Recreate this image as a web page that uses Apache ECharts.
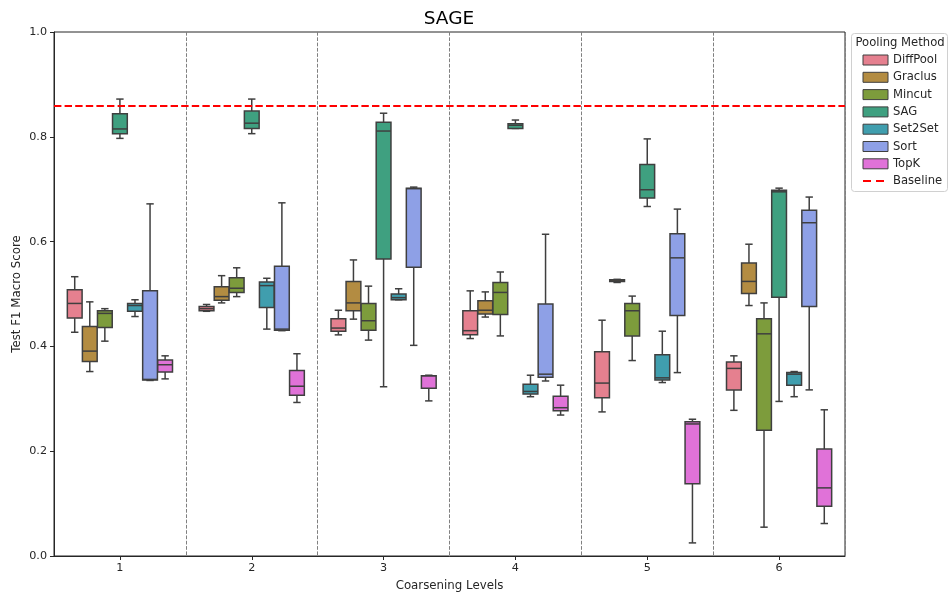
<!DOCTYPE html>
<html>
<head>
<meta charset="utf-8">
<script src="https://cdn.jsdelivr.net/npm/echarts@6/dist/echarts.min.js"></script>
<style>
  html, body { margin: 0; padding: 0; background: #fff; overflow: hidden; }
  #chart { width: 950px; height: 597px; }
</style>
</head>
<body>
<div id="chart"></div>
<script>
// Coarsening levels on the x axis
const levels = ['1', '2', '3', '4', '5', '6'];
const methods = ['DiffPool', 'Graclus', 'Mincut', 'SAG', 'Set2Set', 'Sort', 'TopK'];
const yTicks = [0, 0.2, 0.4, 0.6, 0.8, 1.0];
const baselineScore = 0.861;

// Five-number summaries per level: [low whisker, Q1, median, Q3, high whisker]
const diffPool = [
  [0.427, 0.454, 0.482, 0.508, 0.533],
  [0.467, 0.468, 0.472, 0.476, 0.480],
  [0.422, 0.429, 0.435, 0.453, 0.469],
  [0.415, 0.422, 0.430, 0.468, 0.506],
  [0.275, 0.302, 0.330, 0.390, 0.450],
  [0.278, 0.317, 0.358, 0.370, 0.382]
];
const graclus = [
  [0.352, 0.371, 0.391, 0.438, 0.485],
  [0.483, 0.488, 0.495, 0.514, 0.535],
  [0.452, 0.468, 0.483, 0.524, 0.565],
  [0.456, 0.462, 0.469, 0.487, 0.504],
  [0.522, 0.524, 0.525, 0.527, 0.528],
  [0.478, 0.501, 0.524, 0.559, 0.595]
];
const mincut = [
  [0.410, 0.436, 0.463, 0.468, 0.472],
  [0.495, 0.503, 0.511, 0.531, 0.550],
  [0.412, 0.431, 0.449, 0.482, 0.515],
  [0.420, 0.461, 0.503, 0.522, 0.542],
  [0.373, 0.420, 0.468, 0.482, 0.496],
  [0.055, 0.240, 0.424, 0.453, 0.483]
];
const sag = [
  [0.797, 0.806, 0.815, 0.844, 0.872],
  [0.806, 0.816, 0.826, 0.849, 0.872],
  [0.323, 0.567, 0.811, 0.828, 0.845],
  [0.816, 0.816, 0.822, 0.825, 0.832],
  [0.667, 0.683, 0.699, 0.747, 0.796],
  [0.295, 0.494, 0.695, 0.698, 0.702]
];
const set2set = [
  [0.457, 0.467, 0.478, 0.482, 0.489],
  [0.433, 0.474, 0.516, 0.523, 0.530],
  [0.489, 0.489, 0.493, 0.500, 0.510],
  [0.304, 0.309, 0.314, 0.328, 0.345],
  [0.331, 0.336, 0.340, 0.384, 0.429],
  [0.304, 0.326, 0.347, 0.350, 0.352]
];
const sort = [
  [0.335, 0.336, 0.337, 0.506, 0.672],
  [0.430, 0.431, 0.433, 0.553, 0.674],
  [0.402, 0.551, 0.701, 0.702, 0.704],
  [0.334, 0.341, 0.347, 0.481, 0.614],
  [0.350, 0.459, 0.569, 0.615, 0.662],
  [0.317, 0.476, 0.636, 0.660, 0.685]
];
const topK = [
  [0.338, 0.351, 0.365, 0.374, 0.382],
  [0.293, 0.307, 0.324, 0.354, 0.386],
  [0.296, 0.320, 0.344, 0.344, 0.345],
  [0.269, 0.277, 0.283, 0.305, 0.326],
  [0.025, 0.138, 0.252, 0.256, 0.261],
  [0.062, 0.095, 0.130, 0.204, 0.279]
];

const summaries = [diffPool, graclus, mincut, sag, set2set, sort, topK];
const palette = ['#e5808f', '#b38c42', '#7d9c3c', '#3fa080', '#409eae', '#8ea0e6', '#e072d8'];
const edge = '#3f3f3f';
const textColor = '#262626';
const FONT = 'DejaVu Sans';

// Draws one dodged box (whiskers, caps, box, median) per level
function boxRenderer(hueIdx, nHue) {
  return function (params, api) {
    const cat = api.value(0);
    const band = api.size([1, 0])[0];
    const slot = band * 0.8 / nHue;
    const w = slot * 0.98;
    const cx = api.coord([cat, 0])[0] + (hueIdx - (nHue - 1) / 2) * slot;
    const py = k => api.coord([cat, api.value(k)])[1];
    const yLow = py(1), yQ1 = py(2), yMed = py(3), yQ3 = py(4), yHigh = py(5);
    const cap = w / 2;
    const line = (x1, y1, x2, y2) => ({
      type: 'line',
      shape: { x1, y1, x2, y2 },
      style: { stroke: edge, lineWidth: 1.5 }
    });
    return {
      type: 'group',
      children: [
        line(cx, yQ1, cx, yLow),
        line(cx, yQ3, cx, yHigh),
        line(cx - cap / 2, yLow, cx + cap / 2, yLow),
        line(cx - cap / 2, yHigh, cx + cap / 2, yHigh),
        {
          type: 'rect',
          shape: { x: cx - w / 2, y: yQ3, width: w, height: Math.max(yQ1 - yQ3, 0.5) },
          style: { fill: palette[hueIdx], stroke: edge, lineWidth: 1.5 }
        },
        line(cx - w / 2, yMed, cx + w / 2, yMed)
      ]
    };
  };
}

const boxSeries = methods.map((name, i) => ({
  name,
  type: 'custom',
  renderItem: boxRenderer(i, methods.length),
  itemStyle: { color: palette[i] },
  encode: { x: 0, y: [1, 2, 3, 4, 5] },
  data: summaries[i].map((s, j) => [j].concat(s)),
  z: 3
}));

const dash = [7.4, 3.2];
const baselineSeries = {
  name: 'Baseline',
  type: 'line',
  data: [],
  symbol: 'none',
  lineStyle: { color: '#ff0000', width: 2, type: dash },
  itemStyle: { color: '#ff0000' },
  markLine: {
    silent: true,
    symbol: 'none',
    label: { show: false },
    lineStyle: { color: '#ff0000', width: 2, type: dash },
    data: [{ yAxis: baselineScore }]
  },
  z: 4
};

const legendData = methods.map((name, i) => ({
  name,
  icon: 'rect',
  itemStyle: { color: palette[i], borderColor: edge, borderWidth: 1 }
})).concat([{
  name: 'Baseline',
  itemStyle: { opacity: 0 },
  lineStyle: { color: '#ff0000', width: 2, type: [8, 5], opacity: 1 }
}]);

const chart = echarts.init(document.getElementById('chart'), null, { renderer: 'canvas' });
chart.setOption({
  animation: false,
  backgroundColor: '#ffffff',
  textStyle: { fontFamily: FONT },
  grid: {
    left: 54, right: 105, top: 32, bottom: 41,
    outerBoundsMode: 'none',
    containLabel: false,
    show: true, borderColor: textColor, borderWidth: 1, backgroundColor: 'transparent'
  },
  xAxis: {
    type: 'category',
    data: levels,
    boundaryGap: true,
    name: 'Coarsening Levels',
    nameLocation: 'middle',
    nameGap: 24,
    nameMoveOverlap: false,
    nameTextStyle: { fontFamily: FONT, fontSize: 11.8, color: textColor },
    axisLine: { show: true, lineStyle: { color: textColor, width: 1 } },
    axisTick: { show: true, alignWithLabel: true, length: 4, lineStyle: { color: textColor } },
    axisLabel: { fontFamily: FONT, fontSize: 11.2, color: textColor, margin: 7 },
    splitLine: {
      show: true,
      interval: 0,
      lineStyle: { color: '#808080', width: 1, type: [3.7, 1.6] }
    }
  },
  yAxis: {
    type: 'value',
    min: yTicks[0],
    max: yTicks[yTicks.length - 1],
    interval: 0.2,
    name: 'Test F1 Macro Score',
    nameLocation: 'middle',
    nameGap: 31,
    nameMoveOverlap: false,
    nameTextStyle: { fontFamily: FONT, fontSize: 11.8, color: textColor },
    axisLine: { show: true, lineStyle: { color: textColor, width: 1 } },
    axisTick: { show: true, length: 4, lineStyle: { color: textColor } },
    axisLabel: {
      fontFamily: FONT, fontSize: 11.2, color: textColor, margin: 7,
      formatter: v => v.toFixed(1)
    },
    splitLine: { show: false }
  },
  legend: {
    orient: 'vertical',
    left: 857,
    top: 49,
    itemWidth: 25,
    itemHeight: 10,
    itemGap: 5.3,
    textStyle: { fontFamily: FONT, fontSize: 11.6, color: textColor, lineHeight: 12 },
    data: legendData
  },
  graphic: [
    {
      type: 'text',
      x: 449, y: 19,
      style: {
        text: 'SAGE', fontFamily: FONT, fontSize: 18.5, fill: '#000',
        textAlign: 'center', textVerticalAlign: 'middle'
      }
    },
    {
      type: 'rect',
      shape: { x: 851.5, y: 33.5, width: 96, height: 158, r: 3 },
      style: { fill: 'rgba(255,255,255,0.8)', stroke: '#d0d0d0', lineWidth: 1 },
      z: -1
    },
    {
      type: 'text',
      x: 855.5, y: 43,
      style: {
        text: 'Pooling Method', fontFamily: FONT, fontSize: 11.6, fill: textColor,
        textAlign: 'left', textVerticalAlign: 'middle'
      }
    }
  ],
  series: boxSeries.concat([baselineSeries])
});
</script>
</body>
</html>
